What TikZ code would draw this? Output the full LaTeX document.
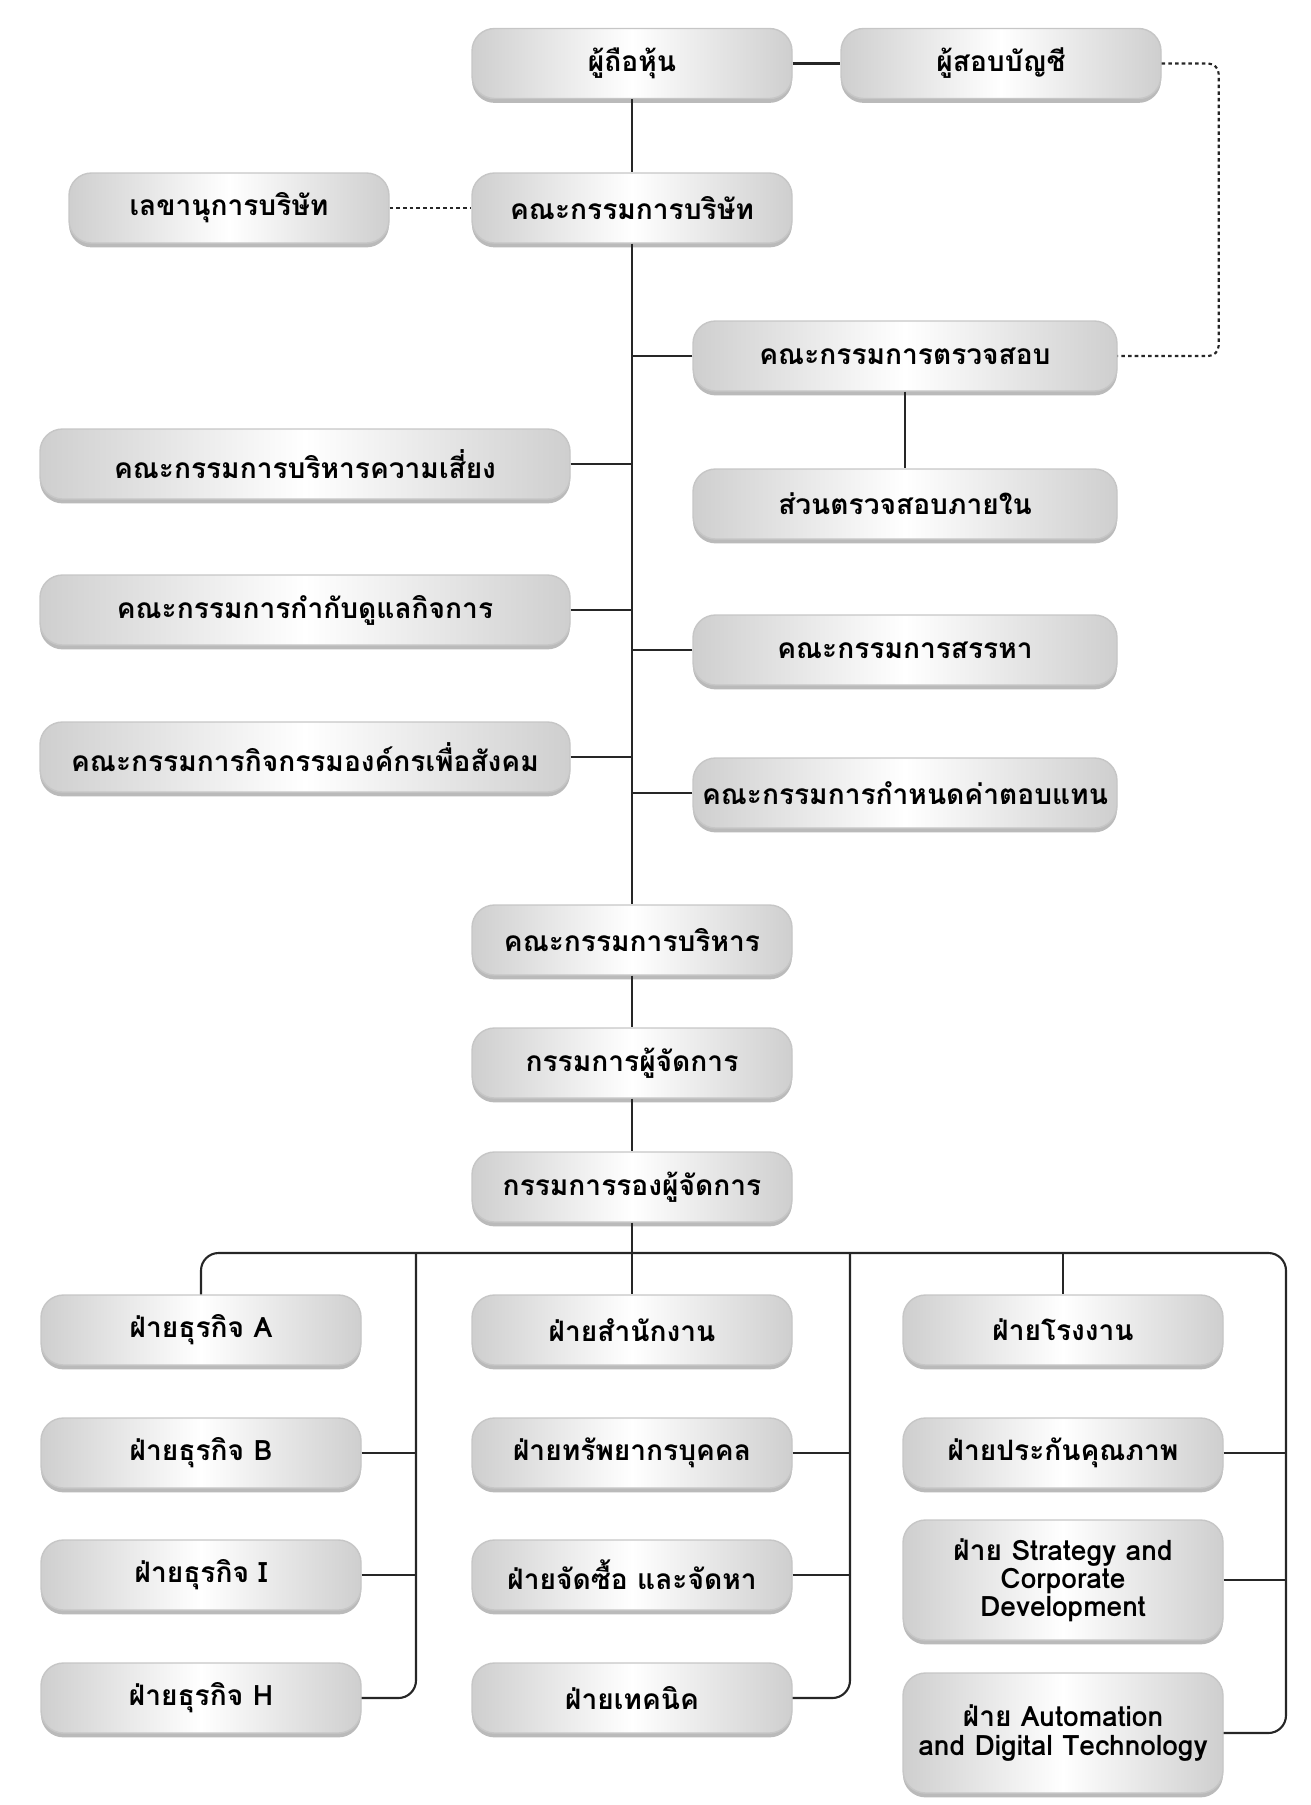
\documentclass[tikz,border=0pt]{standalone}
\usepackage{fontspec}
\setmainfont[Script=Thai]{Loma}
\usepackage{tikz}
\usetikzlibrary{shapes, shadows}
\tikzstyle{unit} = [rectangle, rounded corners=0.45cm, minimum width=6.4cm, minimum height=1.4cm, text centered, align=center, draw=gray!45, line width=0.8pt, left color=gray!38, right color=gray!38, middle color=white, font=\bfseries\fontsize{16}{16}\selectfont, drop shadow={shadow xshift=0pt, shadow yshift=-2.5pt, fill=black!60, opacity=0.45}]
\tikzstyle{wideunit} = [unit, minimum width=8.48cm]
\tikzstyle{longunit} = [unit, minimum width=10.6cm]
\tikzstyle{tallunit} = [unit, minimum height=2.4cm]
\tikzstyle{link} = [line width=1.2pt, black!85]
\tikzstyle{dotlink} = [line width=1.2pt, black!85, dash pattern=on 2pt off 1.8pt, rounded corners=6pt]

\begin{document}
\begin{tikzpicture}[node distance=2.9cm]
    \useasboundingbox (0,0) rectangle (26.22,-36.1);
    % Nodes
    \node (share) [unit] at (12.64,-1.27) {ผู้ถือหุ้น};
    \node (auditor) [unit, node distance=7.38cm, right of=share] {ผู้สอบบัญชี};
    \node (board) [unit, node distance=2.89cm, below of=share] {คณะกรรมการบริษัท};
    \node (secretary) [unit, node distance=8.06cm, left of=board] {เลขานุการบริษัท};
    \node (auditcom) [wideunit, node distance=2.96cm, below of=board, xshift=5.46cm] {คณะกรรมการตรวจสอบ};
    \node (internal) [wideunit, node distance=2.96cm, below of=auditcom] {ส่วนตรวจสอบภายใน};
    \node (nomination) [wideunit, node distance=2.92cm, below of=internal] {คณะกรรมการสรรหา};
    \node (remuneration) [wideunit, node distance=2.86cm, below of=nomination] {คณะกรรมการกำหนดค่าตอบแทน};
    \node (risk) [longunit, node distance=5.12cm, below of=board, xshift=-6.54cm] {คณะกรรมการบริหารความเสี่ยง};
    \node (govern) [longunit, node distance=2.92cm, below of=risk] {คณะกรรมการกำกับดูแลกิจการ};
    \node (csr) [longunit, node distance=2.94cm, below of=govern] {คณะกรรมการกิจกรรมองค์กรเพื่อสังคม};
    \node (exec) [unit, node distance=14.64cm, below of=board] {คณะกรรมการบริหาร};
    \node (md) [unit, node distance=2.46cm, below of=exec] {กรรมการผู้จัดการ};
    \node (dmd) [unit, node distance=2.48cm, below of=md] {กรรมการรองผู้จัดการ};
    \coordinate [node distance=1.32cm, below of=dmd] (bus);
    \coordinate [node distance=4.32cm, left of=bus] (busL);
    \coordinate [node distance=4.36cm, right of=bus] (busM);
    \coordinate [node distance=13.08cm, right of=bus] (busR);

    \node (office) [unit, node distance=2.86cm, below of=dmd] {ฝ่ายสำนักงาน};
    \node (hr) [unit, node distance=2.46cm, below of=office] {ฝ่ายทรัพยากรบุคคล};
    \node (purchase) [unit, node distance=2.44cm, below of=hr] {ฝ่ายจัดซื้อ และจัดหา};
    \node (tech) [unit, node distance=2.46cm, below of=purchase] {ฝ่ายเทคนิค};
    \node (bizA) [unit, node distance=8.62cm, left of=office] {ฝ่ายธุรกิจ A};
    \node (bizB) [unit, node distance=8.62cm, left of=hr] {ฝ่ายธุรกิจ B};
    \node (bizI) [unit, node distance=8.62cm, left of=purchase] {ฝ่ายธุรกิจ I};
    \node (bizH) [unit, node distance=8.62cm, left of=tech] {ฝ่ายธุรกิจ H};
    \node (factory) [unit, node distance=8.62cm, right of=office] {ฝ่ายโรงงาน};
    \node (quality) [unit, node distance=8.62cm, right of=hr] {ฝ่ายประกันคุณภาพ};
    \node (strategy) [tallunit, node distance=8.62cm, right of=purchase, yshift=-0.1cm] {ฝ่าย Strategy and\\Corporate\\Development};
    \node (auto) [tallunit, node distance=8.62cm, right of=tech, yshift=-0.7cm] {ฝ่าย Automation\\and Digital Technology};

    % Lines
    \draw [link] (share) -- (auditor);
    \draw [link] (share) -- (board);
    \draw [dotlink] (secretary) -- (board);
    \draw [dotlink] (auditor.east) -- ++(1.14,0) |- (auditcom.east);
    \draw [link] (board) -- (exec);
    \draw [link] (auditcom.west) -- (auditcom.west -| board);
    \draw [link] (auditcom) -- (internal);
    \draw [link] (nomination.west) -- (nomination.west -| board);
    \draw [link] (remuneration.west) -- (remuneration.west -| board);
    \draw [link] (risk.east) -- (risk.east -| board);
    \draw [link] (govern.east) -- (govern.east -| board);
    \draw [link] (csr.east) -- (csr.east -| board);
    \draw [link] (exec) -- (md);
    \draw [link] (md) -- (dmd);
    \draw [link] (dmd) -- (office);

    \draw [link, rounded corners=10pt] (bizA.north) |- (busR) |- (auto.east);
    \draw [link, rounded corners=10pt] (busL) |- (bizH.east);
    \draw [link, rounded corners=10pt] (busM) |- (tech.east);
    \draw [link] (factory.north |- bus) -- (factory.north);
    \draw [link] (bizB.east) -- (bizB.east -| busL);
    \draw [link] (bizI.east) -- (bizI.east -| busL);
    \draw [link] (hr.east) -- (hr.east -| busM);
    \draw [link] (purchase.east) -- (purchase.east -| busM);
    \draw [link] (quality.east) -- (quality.east -| busR);
    \draw [link] (strategy.east) -- (strategy.east -| busR);

  \end{tikzpicture}
\end{document}
